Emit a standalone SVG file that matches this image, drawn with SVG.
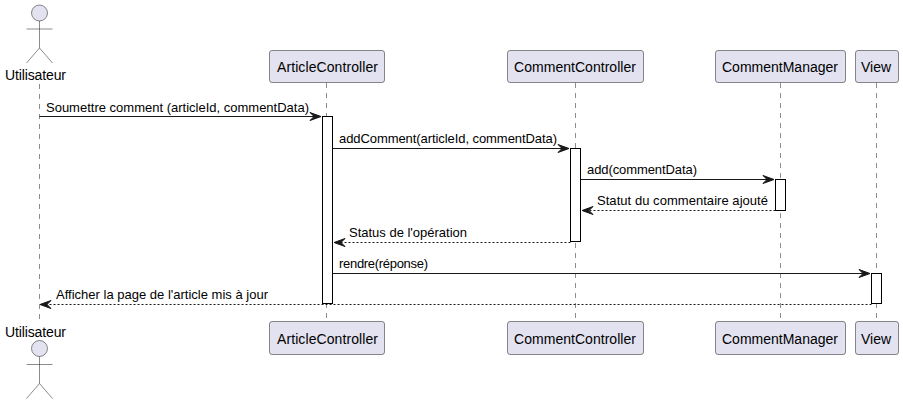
<svg xmlns="http://www.w3.org/2000/svg" width="903" height="404" viewBox="0 0 903 404">
<style>
text{font-family:"Liberation Sans",Arial,sans-serif;fill:#000}
.m{font-size:13px}
.p{font-size:14px}
.box{fill:#E2E2F0;stroke:#181818;stroke-width:.5}
.act{fill:#fff;stroke:#000;stroke-width:1}
.life{stroke:#181818;stroke-width:.5;stroke-dasharray:5 5;fill:none}
.solid{stroke:#181818;stroke-width:1;fill:none}
.dash{stroke:#181818;stroke-width:1;stroke-dasharray:2 2;fill:none}
.head{fill:#181818;stroke:#181818}
.actor{fill:none;stroke:#181818;stroke-width:.5}
</style>
<rect width="903" height="404" fill="#fff"/>
<g id="lifelines">
<line class="life" x1="39.5" y1="84" x2="39.5" y2="322"/>
<line class="life" x1="326.5" y1="83" x2="326.5" y2="321"/>
<line class="life" x1="575.5" y1="83" x2="575.5" y2="321"/>
<line class="life" x1="780.5" y1="83" x2="780.5" y2="321"/>
<line class="life" x1="876.5" y1="83" x2="876.5" y2="321"/>
</g>
<g id="activations">
<rect class="act" x="322.5" y="116.5" width="10" height="187"/>
<rect class="act" x="570.5" y="148.5" width="10" height="93"/>
<rect class="act" x="775.5" y="179.5" width="10" height="31"/>
<rect class="act" x="871.5" y="273.5" width="10" height="30"/>
</g>
<g id="actor-top">
<circle cx="39.5" cy="13" r="8" fill="#E2E2F0" stroke="#181818" stroke-width=".5"/>
<path class="actor" d="M39.5 21V48M26.5 29H52.5M39.5 48L26.5 63M39.5 48L52.5 63"/>
<text class="p" x="5" y="80" textLength="61">Utilisateur</text>
</g>
<g id="actor-bottom">
<text class="p" x="5" y="337" textLength="61">Utilisateur</text>
<circle cx="39.5" cy="348.5" r="8" fill="#E2E2F0" stroke="#181818" stroke-width=".5"/>
<path class="actor" d="M39.5 356.5V383.5M26.5 364.5H52.5M39.5 383.5L26.5 398.5M39.5 383.5L52.5 398.5"/>
</g>
<g id="article-top"><rect class="box" x="269.5" y="50.5" width="115" height="32" rx="2.5"/><text class="p" x="277" y="72" textLength="101">ArticleController</text></g>
<g id="comment-top"><rect class="box" x="507.5" y="50.5" width="136" height="32" rx="2.5"/><text class="p" x="514" y="72" textLength="122">CommentController</text></g>
<g id="manager-top"><rect class="box" x="715.5" y="50.5" width="130" height="32" rx="2.5"/><text class="p" x="722" y="72" textLength="116">CommentManager</text></g>
<g id="view-top"><rect class="box" x="855.5" y="50.5" width="43" height="32" rx="2.5"/><text class="p" x="861" y="72" textLength="30">View</text></g>
<g id="article-bottom"><rect class="box" x="269.5" y="321.5" width="115" height="33" rx="2.5"/><text class="p" x="277" y="344" textLength="101">ArticleController</text></g>
<g id="comment-bottom"><rect class="box" x="507.5" y="321.5" width="136" height="33" rx="2.5"/><text class="p" x="514" y="344" textLength="122">CommentController</text></g>
<g id="manager-bottom"><rect class="box" x="715.5" y="321.5" width="130" height="33" rx="2.5"/><text class="p" x="722" y="344" textLength="116">CommentManager</text></g>
<g id="view-bottom"><rect class="box" x="855.5" y="321.5" width="43" height="33" rx="2.5"/><text class="p" x="861" y="344" textLength="30">View</text></g>
<g id="connectors">
<line class="solid" x1="39.5" y1="116.5" x2="318" y2="116.5"/><path class="head" d="M310 112.5L321 116.5L310 120.5L314 116.5Z"/>
<text class="m" x="46" y="112" textLength="263">Soumettre comment (articleId, commentData)</text>
<line class="solid" x1="332.5" y1="148.5" x2="566" y2="148.5"/><path class="head" d="M558 144.5L569 148.5L558 152.5L562 148.5Z"/>
<text class="m" x="339" y="143" textLength="218">addComment(articleId, commentData)</text>
<line class="solid" x1="580.5" y1="179.5" x2="771" y2="179.5"/><path class="head" d="M763 175.5L774 179.5L763 183.5L767 179.5Z"/>
<text class="m" x="587" y="174" textLength="110">add(commentData)</text>
<line class="dash" x1="775.5" y1="210.5" x2="585" y2="210.5"/><path class="head" d="M593 206.5L582 210.5L593 214.5L589 210.5Z"/>
<text class="m" x="597" y="205" textLength="171">Statut du commentaire ajouté</text>
<line class="dash" x1="570.5" y1="242.5" x2="337" y2="242.5"/><path class="head" d="M345 238.5L334 242.5L345 246.5L341 242.5Z"/>
<text class="m" x="349" y="237" textLength="118">Status de l'opération</text>
<line class="solid" x1="332.5" y1="273.5" x2="867" y2="273.5"/><path class="head" d="M859 269.5L870 273.5L859 277.5L863 273.5Z"/>
<text class="m" x="339" y="268" textLength="89">rendre(réponse)</text>
<line class="dash" x1="871.5" y1="304.5" x2="43" y2="304.5"/><path class="head" d="M51 300.5L40 304.5L51 308.5L47 304.5Z"/>
<text class="m" x="56" y="299" textLength="212">Afficher la page de l'article mis à jour</text>
</g>
</svg>
